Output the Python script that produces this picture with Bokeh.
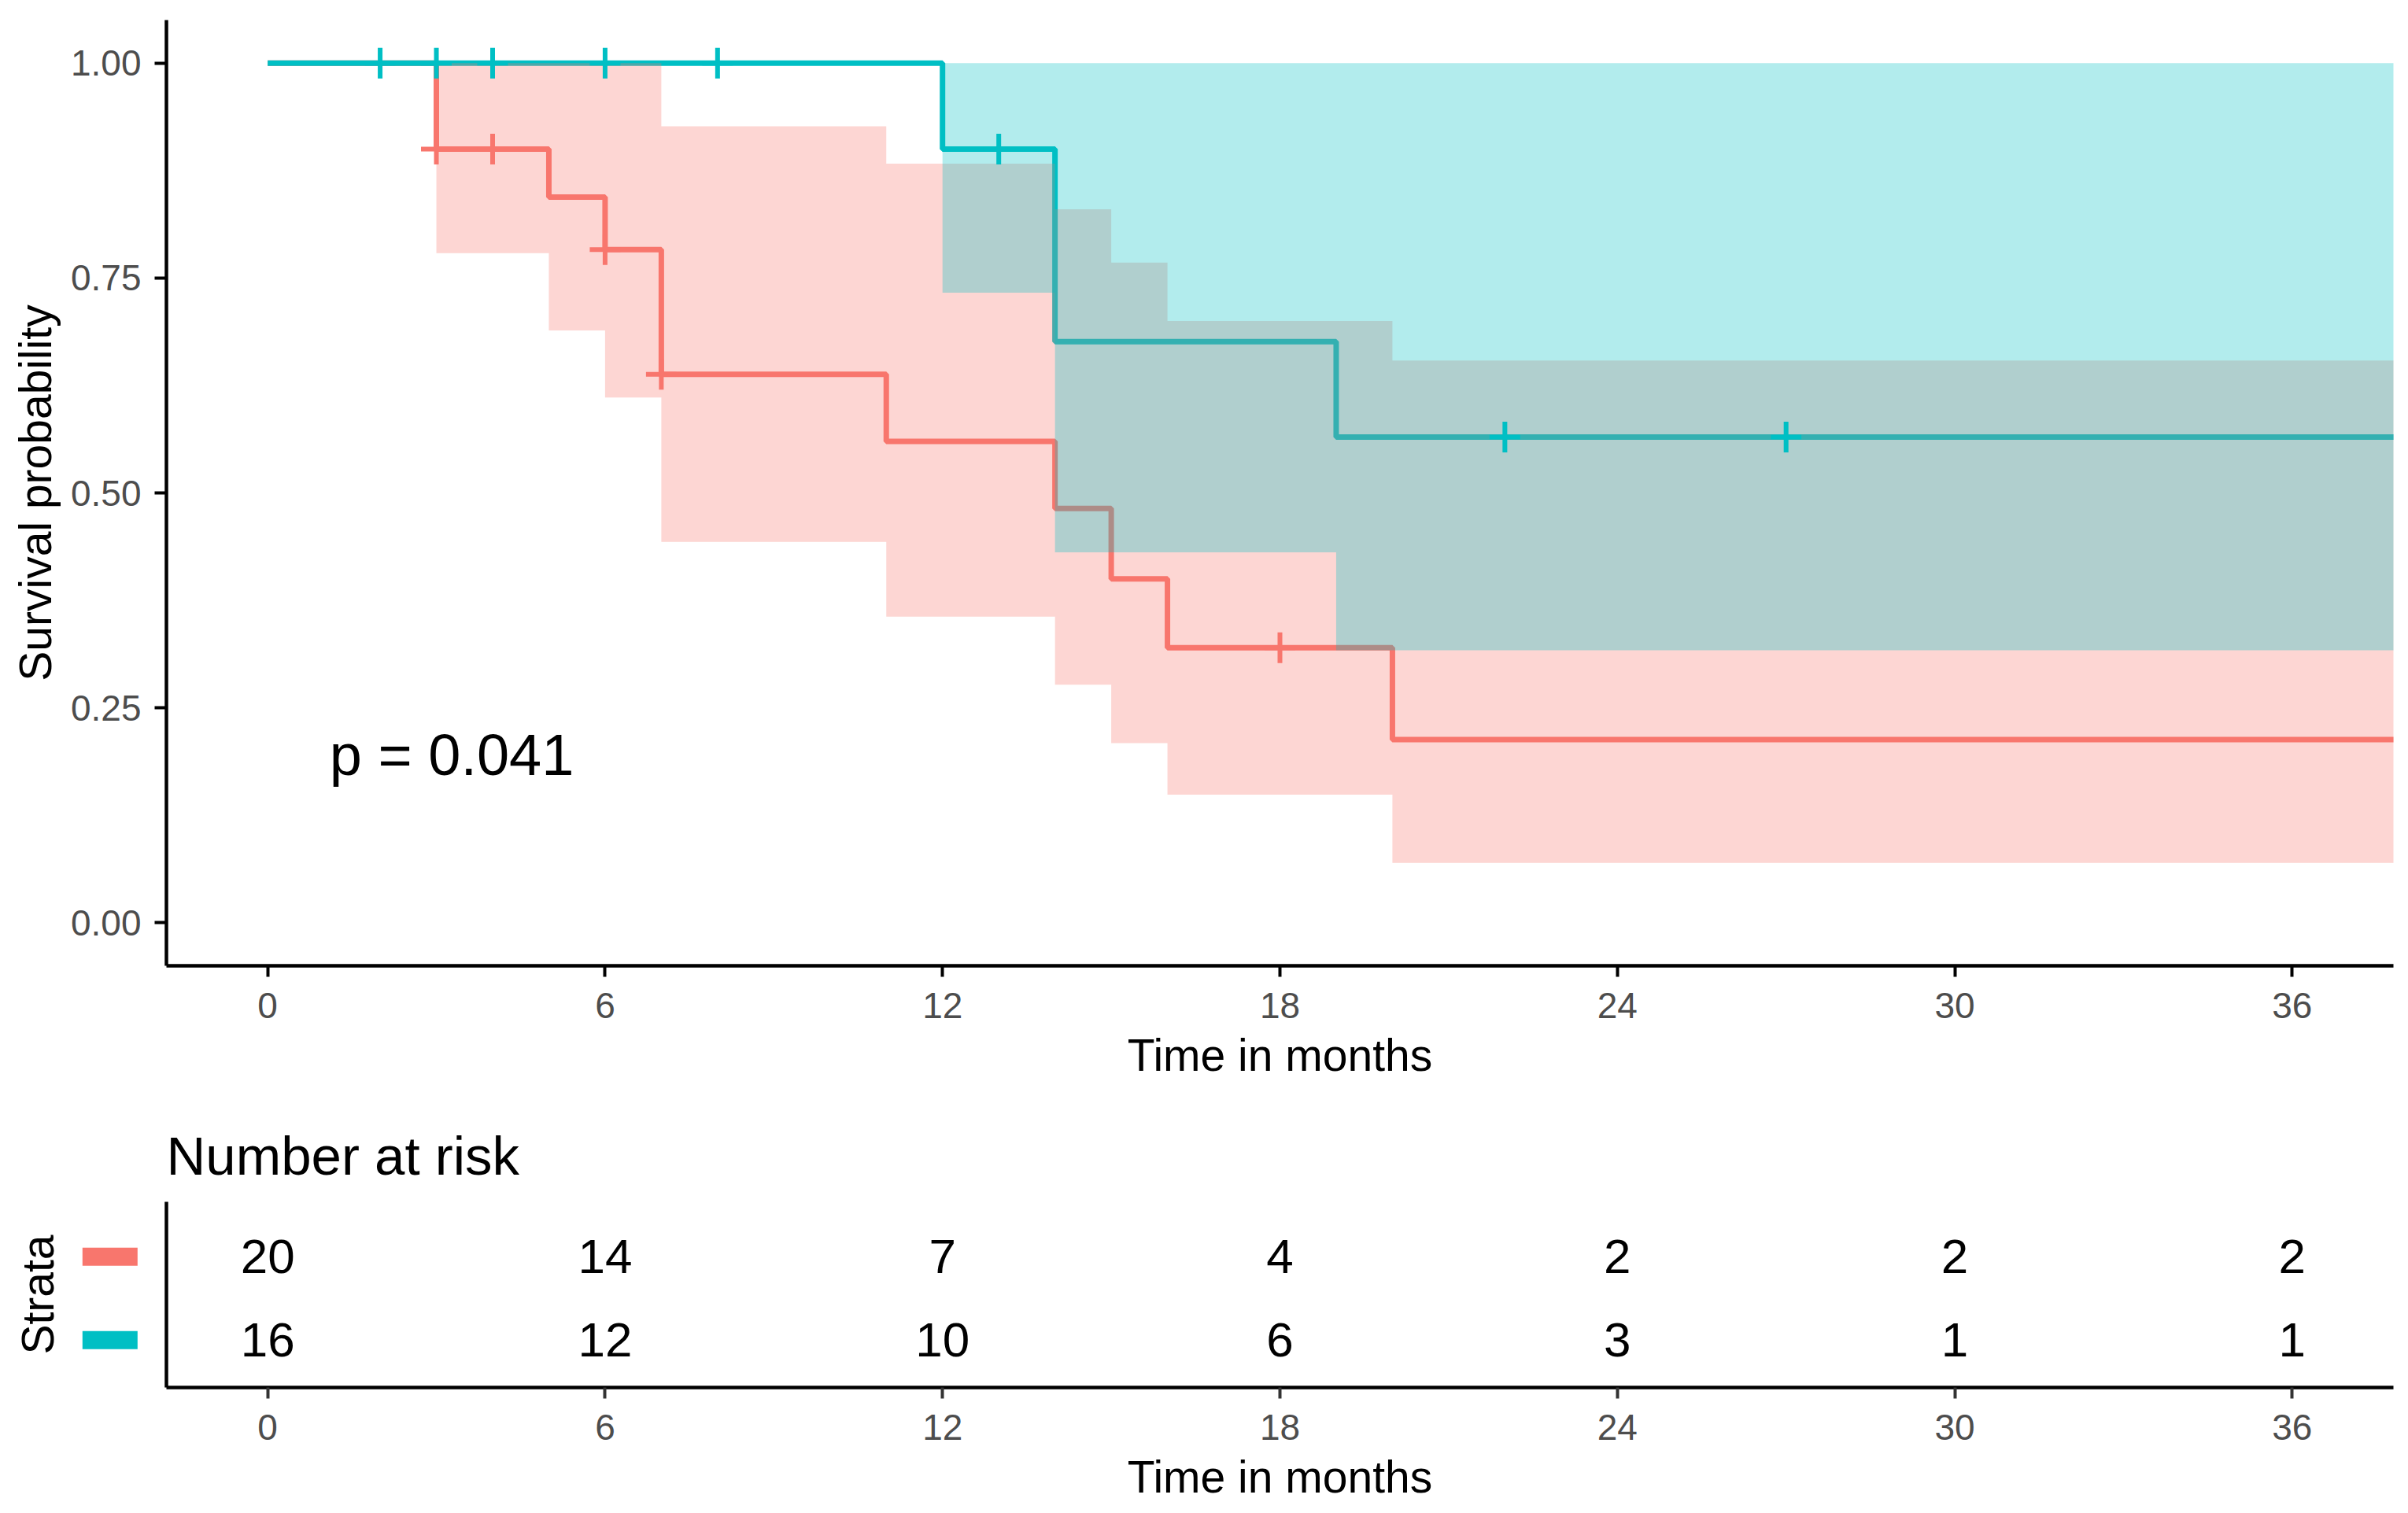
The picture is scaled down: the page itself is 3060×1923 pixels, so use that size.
import math
from bokeh.plotting import figure
from bokeh.layouts import column, row
from bokeh.models import Range1d, FixedTicker
from bokeh.core.properties import value
from bokeh.embed import file_html
from bokeh.resources import INLINE

FONT = "Liberation Sans"
RED = "#F8766D"
TEAL = "#00BFC4"

# ---------------- data ----------------
strata_names = ["Strata 1", "Strata 2"]

red_time = [0, 3, 5, 6, 7, 11, 14, 15, 16, 20, 40]
red_surv = [1.0, 0.90, 0.844, 0.783, 0.638, 0.560, 0.482, 0.400, 0.320, 0.213, 0.213]
red_lower = [1.0, 0.779, 0.689, 0.611, 0.443, 0.356, 0.277, 0.209, 0.149, 0.0696, 0.0696]
red_upper = [1.0, 1.0, 1.0, 1.0, 0.9265, 0.883, 0.830, 0.768, 0.700, 0.654, 0.654]

teal_time = [0, 12, 14, 19, 40]
teal_surv = [1.0, 0.90, 0.676, 0.565, 0.565]
teal_lower = [1.0, 0.733, 0.431, 0.317, 0.317]
teal_upper = [1.0, 1.0, 1.0, 1.0, 1.0]

red_cens_t = [3, 4, 6, 7, 18]
red_cens_s = [0.90, 0.90, 0.783, 0.638, 0.320]
teal_cens_t = [2, 3, 4, 6, 8, 13, 22, 27]
teal_cens_s = [1.0, 1.0, 1.0, 1.0, 1.0, 0.90, 0.565, 0.565]

x_ticks = [0, 6, 12, 18, 24, 30, 36]
y_ticks = [0.0, 0.25, 0.5, 0.75, 1.0]
y_tick_labels = ["0.00", "0.25", "0.50", "0.75", "1.00"]

risk_times = [0, 6, 12, 18, 24, 30, 36]
risk_red = [20, 14, 7, 4, 2, 2, 2]
risk_teal = [16, 12, 10, 6, 3, 1, 1]
strata_rows = [2, 1]
strata_colors = [RED, TEAL]

pval_text = "p = 0.041"
pval_x = 1.1
pval_y = 0.195

# ---------------- layout ----------------
W = 3060
H1 = 1403
H2 = 1923 - H1
LEG_W = 190
T_TOP = 124
T_BOTTOM = 160


def style_axes(fig, tick_color):
    for ax in (fig.xaxis[0], fig.yaxis[0]):
        ax.axis_line_color = "black"
        ax.axis_line_width = 4.5
        ax.major_tick_line_color = tick_color
        ax.major_tick_line_width = 4
        ax.major_tick_in = 0
        ax.minor_tick_line_color = None
        ax.minor_tick_out = 0
        ax.major_label_text_font = FONT
        ax.major_label_text_font_size = "46px"
        ax.major_label_text_color = "#4D4D4D"
        ax.axis_label_text_font = FONT
        ax.axis_label_text_font_size = "57px"
        ax.axis_label_text_font_style = "normal"
        ax.axis_label_text_color = "black"
    fig.xgrid.visible = False
    fig.ygrid.visible = False
    fig.outline_line_color = None
    fig.background_fill_color = "white"
    fig.border_fill_color = "white"


p = figure(width=W, height=H1, output_backend="svg", toolbar_location=None,
           x_range=Range1d(-1.8, 37.8), y_range=Range1d(-0.05, 1.05),
           min_border_left=211, min_border_right=19, min_border_top=25,
           min_border_bottom=H1 - 1227)
style_axes(p, "black")
p.xaxis.ticker = FixedTicker(ticks=x_ticks)
p.yaxis.ticker = FixedTicker(ticks=y_ticks)
p.yaxis.major_label_overrides = {t: l for t, l in zip(y_ticks, y_tick_labels)}
p.xaxis.axis_label = "Time in months"
p.yaxis.axis_label = "Survival probability"
p.xaxis.major_tick_out = 14
p.yaxis.major_tick_out = 15
p.xaxis.major_label_standoff = 20
p.yaxis.major_label_standoff = 17
p.xaxis.axis_label_standoff = 12
p.yaxis.axis_label_standoff = 10

# curves first, ribbons over them, censor marks on top
p.step(red_time, red_surv, mode="after", line_color=RED, line_width=7)
p.step(teal_time, teal_surv, mode="after", line_color=TEAL, line_width=7)
p.varea_step(x=red_time, y1=red_lower, y2=red_upper, step_mode="after",
             fill_color=RED, fill_alpha=0.3)
p.varea_step(x=teal_time, y1=teal_lower, y2=teal_upper, step_mode="after",
             fill_color=TEAL, fill_alpha=0.3)
p.scatter(red_cens_t, red_cens_s, marker="cross", size=39, line_color=RED, line_width=6)
p.scatter(teal_cens_t, teal_cens_s, marker="cross", size=39, line_color=TEAL, line_width=6)

p.text(x=[pval_x], y=[pval_y], text=[pval_text], text_font=value(FONT),
       text_font_size="74px", text_color="black", text_align="left",
       text_baseline="middle")

# ---------------- risk table ----------------
t_yr = (0.43, 2.66)
t = figure(width=W - LEG_W, height=H2, output_backend="svg", toolbar_location=None,
           x_range=Range1d(-1.8, 37.8), y_range=Range1d(*t_yr),
           min_border_left=211 - LEG_W, min_border_right=19, min_border_top=T_TOP,
           min_border_bottom=T_BOTTOM)
style_axes(t, "#333333")
t.xaxis.ticker = FixedTicker(ticks=x_ticks)
t.yaxis.ticker = FixedTicker(ticks=[])
t.xaxis.axis_label = "Time in months"
t.xaxis.major_tick_out = 14
t.yaxis.major_tick_out = 0
t.xaxis.major_label_standoff = 20
t.yaxis.major_label_standoff = 0
t.xaxis.axis_label_standoff = 12

t.title.text = "Number at risk"
t.title.text_font = FONT
t.title.text_font_size = "69px"
t.title.text_font_style = "normal"
t.title.text_color = "black"
t.title.align = "left"
t.title.vertical_align = "top"
t.title.standoff = 36

for r, counts in zip(strata_rows, [risk_red, risk_teal]):
    t.text(x=risk_times, y=[r] * len(risk_times), text=[str(c) for c in counts],
           text_font=value(FONT), text_font_size="62px", text_color="black",
           text_align="center", text_baseline="middle")

# strata keys + "Strata" title on the left of the table
lg = figure(width=LEG_W, height=H2, output_backend="svg", toolbar_location=None,
            x_range=Range1d(0, LEG_W), y_range=Range1d(*t_yr),
            x_axis_location=None, y_axis_location=None,
            min_border_left=0, min_border_right=0, min_border_top=T_TOP,
            min_border_bottom=T_BOTTOM)
lg.grid.visible = False
lg.outline_line_color = None
lg.background_fill_color = "white"
lg.border_fill_color = "white"
lg.rect(x=[139.3] * len(strata_rows), y=strata_rows, width=70, height=23,
        width_units="screen", height_units="screen",
        fill_color=strata_colors, line_color=None)
lg.text(x=[47], y=[sum(t_yr) / 2], text=["Strata"], angle=math.pi / 2,
        text_font=value(FONT), text_font_size="57px", text_color="black",
        text_align="center", text_baseline="middle")

layout = column(p, row(lg, t))
open("out.html", "w").write(file_html(layout, INLINE))
